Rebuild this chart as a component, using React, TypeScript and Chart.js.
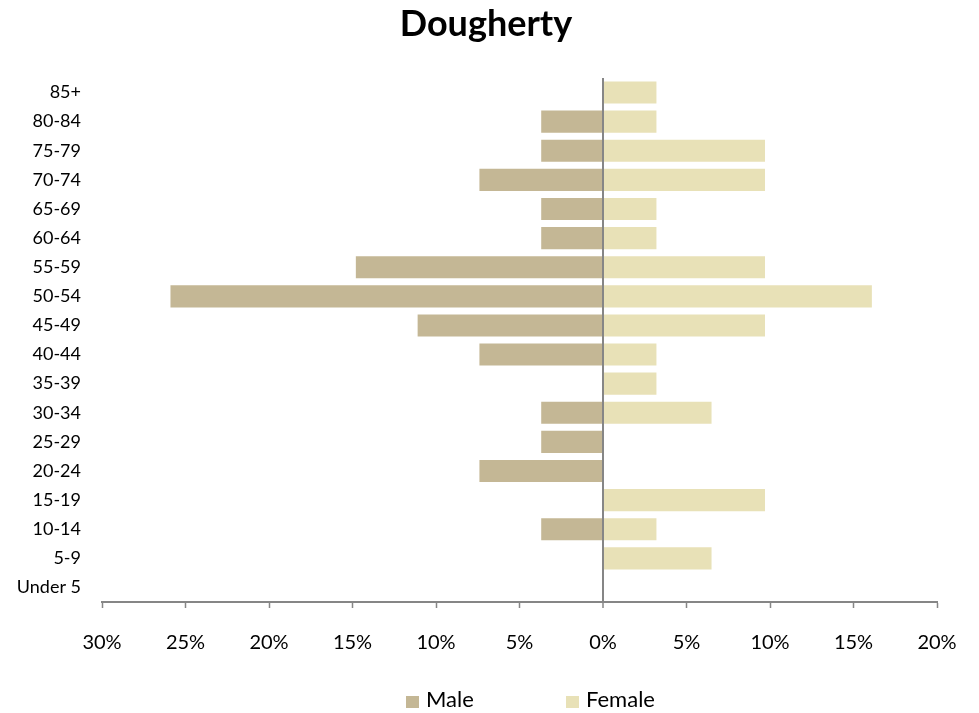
import React, { useEffect, useRef } from "react";
import { Chart, registerables } from "chart.js";

Chart.register(...registerables);

const chartTitle = "Dougherty";
const categories = [
  "85+", "80-84", "75-79", "70-74", "65-69", "60-64", "55-59", "50-54", "45-49",
  "40-44", "35-39", "30-34", "25-29", "20-24", "15-19", "10-14", "5-9", "Under 5",
];
// percent of population
const maleValues = [0, 3.7, 3.7, 7.4, 3.7, 3.7, 14.8, 25.9, 11.1, 7.4, 0, 3.7, 3.7, 7.4, 0, 3.7, 0, 0];
const femaleValues = [3.2, 3.2, 9.7, 9.7, 3.2, 3.2, 9.7, 16.1, 9.7, 3.2, 3.2, 6.5, 0, 0, 9.7, 3.2, 6.5, 0];
const seriesNames = ["Male", "Female"];
const xMin = -30;
const xMax = 20;
const xStep = 5;

const MALE_COLOR = "#C4B795";
const FEMALE_COLOR = "#E8E1B7";
const AXIS_COLOR = "#868686";

// draws the title and the legend as canvas text
const decorPlugin = {
  id: "decor",
  afterDraw(chart: any) {
    const ctx = chart.ctx;
    ctx.save();
    ctx.fillStyle = "#000";
    ctx.textAlign = "center";
    ctx.textBaseline = "alphabetic";
    ctx.font = "bold 36px Lato";
    ctx.fillText(chartTitle, 486, 36);

    const colors = [MALE_COLOR, FEMALE_COLOR];
    const boxX = [406, 566];
    ctx.font = "22px Lato";
    ctx.textAlign = "left";
    seriesNames.forEach((name, i) => {
      ctx.fillStyle = colors[i];
      ctx.fillRect(boxX[i], 696, 13, 12);
      ctx.fillStyle = "#000";
      ctx.fillText(name, boxX[i] + 20, 707);
    });
    ctx.restore();
  },
};

export default function App() {
  const ref = useRef<HTMLCanvasElement | null>(null);

  useEffect(() => {
    document.body.style.margin = "0";
    if (!ref.current) return;
    Chart.defaults.font.family = "Lato, 'Open Sans', sans-serif";
    const chart = new Chart(ref.current, {
      type: "bar",
      data: {
        labels: categories,
        datasets: [
          {
            label: seriesNames[0],
            data: maleValues.map((v) => -v),
            backgroundColor: MALE_COLOR,
            barPercentage: 0.76,
            categoryPercentage: 1,
          },
          {
            label: seriesNames[1],
            data: femaleValues,
            backgroundColor: FEMALE_COLOR,
            barPercentage: 0.76,
            categoryPercentage: 1,
          },
        ],
      },
      plugins: [decorPlugin],
      options: {
        indexAxis: "y",
        animation: false,
        responsive: true,
        maintainAspectRatio: false,
        layout: { padding: { left: 0, right: 42, top: 78, bottom: 51 } },
        plugins: {
          legend: { display: false },
          tooltip: { enabled: false },
          title: { display: false },
        },
        scales: {
          x: {
            type: "linear",
            stacked: true,
            min: xMin,
            max: xMax,
            afterFit: (scale: any) => {
              scale.height = 60;
              scale.paddingLeft = 0;
              scale.paddingRight = 0;
            },
            ticks: {
              stepSize: xStep,
              color: "#000",
              font: { family: "Lato", size: 20 },
              padding: 23,
              maxRotation: 0,
              callback: (v: any) => Math.abs(Number(v)) + "%",
            },
            grid: {
              color: (ctx: any) => (ctx.tick && ctx.tick.value === 0 ? AXIS_COLOR : "rgba(0,0,0,0)"),
              lineWidth: (ctx: any) => (ctx.tick && ctx.tick.value === 0 ? 2 : 1),
              drawTicks: true,
              tickLength: 6,
              tickColor: AXIS_COLOR,
              tickWidth: 1.5,
            },
            border: { display: true, color: AXIS_COLOR, width: 2 },
          },
          y: {
            stacked: true,
            afterFit: (scale: any) => {
              scale.width = 102;
            },
            ticks: {
              color: "#000",
              font: { family: "Lato", size: 18 },
              padding: 21,
              autoSkip: false,
            },
            grid: { display: false, drawTicks: false },
            border: { display: false },
          },
        },
      },
    });
    return () => chart.destroy();
  }, []);

  return (
    <div style={{ position: "relative", width: 979, height: 713 }}>
      <canvas ref={ref} />
    </div>
  );
}
